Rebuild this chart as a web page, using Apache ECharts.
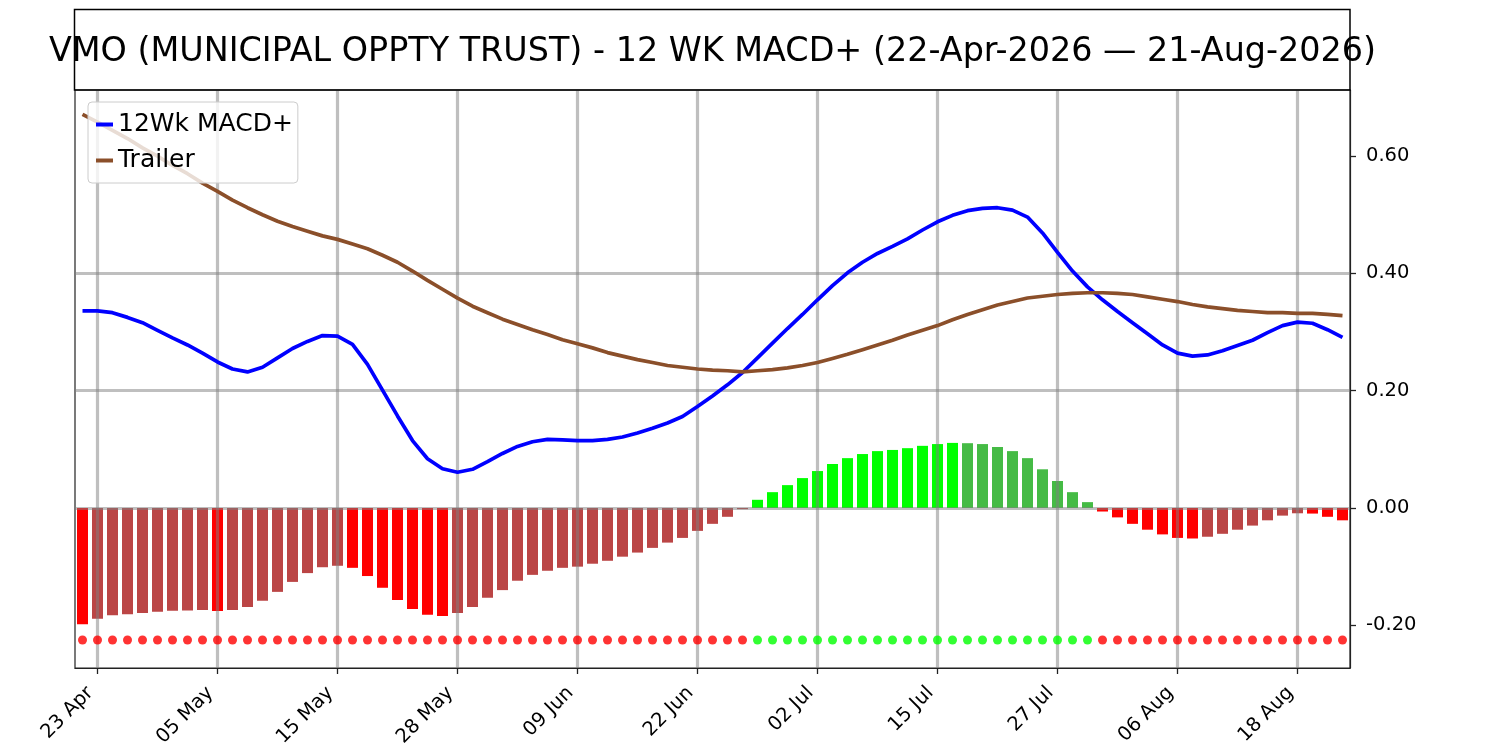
<!DOCTYPE html>
<html><head><meta charset="utf-8">
<script src="https://cdn.jsdelivr.net/npm/echarts@6/dist/echarts.min.js"></script>
<style>html,body{margin:0;padding:0;background:#fff}#c{width:1500px;height:750px}</style>
</head><body><div id="c"></div>
<script>
const titleText = 'VMO (MUNICIPAL OPPTY TRUST) - 12 WK MACD+ (22-Apr-2026 \u2014 21-Aug-2026)';
const dates = ['22 Apr','23 Apr','24 Apr','27 Apr','28 Apr','29 Apr','30 Apr','01 May','04 May','05 May',
 '06 May','07 May','08 May','11 May','12 May','13 May','14 May','15 May','18 May','19 May',
 '20 May','21 May','22 May','26 May','27 May','28 May','29 May','01 Jun','02 Jun','03 Jun',
 '04 Jun','05 Jun','08 Jun','09 Jun','10 Jun','11 Jun','12 Jun','15 Jun','16 Jun','17 Jun',
 '18 Jun','22 Jun','23 Jun','24 Jun','25 Jun','26 Jun','29 Jun','30 Jun','01 Jul','02 Jul',
 '06 Jul','07 Jul','08 Jul','09 Jul','10 Jul','13 Jul','14 Jul','15 Jul','16 Jul','17 Jul',
 '20 Jul','21 Jul','22 Jul','23 Jul','24 Jul','27 Jul','28 Jul','29 Jul','30 Jul','31 Jul',
 '03 Aug','04 Aug','05 Aug','06 Aug','07 Aug','10 Aug','11 Aug','12 Aug','13 Aug','14 Aug',
 '17 Aug','18 Aug','19 Aug','20 Aug','21 Aug'];
const tickLabels = ['23 Apr','05 May','15 May','28 May','09 Jun','22 Jun','02 Jul','15 Jul','27 Jul','06 Aug','18 Aug'];
const macd = [0.336,0.336,0.333,0.325,0.316,0.303,0.290,0.278,0.264,0.249,
 0.237,0.232,0.240,0.256,0.272,0.284,0.294,0.293,0.279,0.245,
 0.201,0.157,0.115,0.084,0.067,0.061,0.066,0.079,0.093,0.105,
 0.113,0.117,0.116,0.115,0.115,0.117,0.121,0.128,0.136,0.145,
 0.156,0.173,0.191,0.210,0.231,0.256,0.281,0.306,0.330,0.355,
 0.379,0.401,0.419,0.434,0.446,0.459,0.474,0.488,0.499,0.507,
 0.511,0.512,0.508,0.496,0.469,0.436,0.404,0.377,0.355,0.335,
 0.316,0.297,0.278,0.264,0.259,0.261,0.268,0.277,0.286,0.299,
 0.311,0.317,0.315,0.304,0.291];
const trailer = [0.671,0.658,0.644,0.630,0.614,0.600,0.584,0.570,0.554,0.540,
 0.525,0.512,0.500,0.489,0.480,0.472,0.464,0.458,0.450,0.442,
 0.431,0.419,0.404,0.388,0.373,0.358,0.344,0.333,0.322,0.313,
 0.304,0.296,0.287,0.280,0.273,0.265,0.259,0.253,0.248,0.243,
 0.240,0.237,0.235,0.234,0.232,0.234,0.236,0.239,0.243,0.248,
 0.255,0.262,0.270,0.278,0.286,0.295,0.303,0.311,0.321,0.330,
 0.338,0.346,0.352,0.358,0.361,0.364,0.366,0.367,0.367,0.366,
 0.364,0.360,0.356,0.352,0.347,0.343,0.340,0.337,0.335,0.333,
 0.333,0.332,0.332,0.330,0.328];
const hist = [-0.198,-0.189,-0.183,-0.181,-0.179,-0.177,-0.175,-0.1748,-0.174,-0.1755,
 -0.174,-0.169,-0.158,-0.143,-0.126,-0.111,-0.101,-0.0985,-0.102,-0.116,
 -0.136,-0.157,-0.172,-0.182,-0.184,-0.179,-0.169,-0.153,-0.140,-0.124,
 -0.114,-0.107,-0.102,-0.100,-0.095,-0.090,-0.083,-0.076,-0.068,-0.059,
 -0.051,-0.039,-0.027,-0.015,-0.002,0.014,0.027,0.039,0.051,0.063,
 0.075,0.085,0.092,0.097,0.099,0.102,0.106,0.109,0.111,0.1105,
 0.109,0.104,0.097,0.085,0.066,0.046,0.027,0.010,-0.006,-0.016,
 -0.027,-0.037,-0.045,-0.051,-0.052,-0.049,-0.044,-0.037,-0.030,-0.021,
 -0.013,-0.009,-0.0095,-0.015,-0.021];
const yTicks = [-0.2, 0, 0.2, 0.4, 0.6];
const yMin = -0.2728, yMax = 0.7127;
const DOT_LEVEL = -0.225;

const C = {
  red: '#ff0000', redMuted: '#bb4545',
  green: '#00ff00', greenMuted: '#45bb45',
  blue: '#0000ff', brown: '#8b4f2a',
  grid: 'rgba(128,128,128,0.5)'
};
const FONT = 'DejaVu Sans';

const barData = hist.map((v, i) => {
  const p = i > 0 ? hist[i - 1] : v;
  let col;
  if (v < 0) col = (i === 0 || v <= p) ? C.red : C.redMuted;
  else col = (i === 0 || v >= p) ? C.green : C.greenMuted;
  return { value: v, itemStyle: { color: col } };
});
const dotData = dates.map((d, i) => ({
  value: DOT_LEVEL,
  itemStyle: { color: macd[i] > trailer[i] ? C.green : C.red }
}));
const showIdx = (i) => tickLabels.indexOf(dates[i]) >= 0;

const chart = echarts.init(document.getElementById('c'), null, { renderer: 'canvas' });
chart.setOption({
  animation: false,
  backgroundColor: '#fff',
  textStyle: { fontFamily: FONT },
  title: {
    text: titleText,
    left: 712.5, top: 52, padding: 0,
    textAlign: 'center', textVerticalAlign: 'middle',
    textStyle: { fontFamily: FONT, fontSize: 33.4, fontWeight: 'normal', color: '#000' },
    z: 10
  },
  graphic: [{
    type: 'rect', z: 5,
    shape: { x: 74.5, y: 9.5, width: 1275.5, height: 80.5 },
    style: { fill: 'none', stroke: '#000', lineWidth: 1.5 }
  }],
  legend: {
    left: 88, top: 102,
    orient: 'vertical',
    padding: [10, 5, 10, 8],
    itemGap: 11,
    itemWidth: 17, itemHeight: 4,
    icon: 'rect',
    backgroundColor: 'rgba(255,255,255,0.8)',
    borderColor: '#cccccc', borderWidth: 1, borderRadius: 4,
    textStyle: { fontFamily: FONT, fontSize: 25, color: '#000' },
    data: ['12Wk MACD+', 'Trailer'],
    z: 20
  },
  grid: {
    left: 75, right: 150, top: 90, bottom: 82,
    show: true, borderColor: '#222', borderWidth: 1.2, backgroundColor: 'transparent'
  },
  xAxis: {
    type: 'category', data: dates, boundaryGap: true, z: 3,
    axisLine: { show: true, onZero: false, lineStyle: { color: '#222', width: 1.2 } },
    axisTick: { show: true, interval: (i) => showIdx(i), alignWithLabel: true, length: 6, lineStyle: { color: '#222', width: 1.3 } },
    axisLabel: {
      interval: (i) => showIdx(i), rotate: 45, margin: 29, verticalAlign: 'bottom',
      fontFamily: FONT, fontSize: 19.5, color: '#000'
    },
    splitLine: { show: true, interval: (i) => showIdx(i), alignWithLabel: true, lineStyle: { color: C.grid, width: 3.2 } }
  },
  yAxis: {
    type: 'value', position: 'right', min: yMin, max: yMax, z: 3,
    axisLine: { show: true, lineStyle: { color: '#222', width: 1.2 } },
    axisTick: { show: true, customValues: yTicks, length: 6, lineStyle: { color: '#222', width: 1.3 } },
    axisLabel: {
      customValues: yTicks, margin: 16, align: 'left',
      formatter: (v) => v.toFixed(2),
      fontFamily: FONT, fontSize: 19.5, color: '#000'
    },
    splitLine: { show: true, showMinLine: false, showMaxLine: false, lineStyle: { color: C.grid, width: 3.2 } }
  },
  series: [
    { name: 'hist', type: 'bar', data: barData, barWidth: 11, z: 2, silent: true },
    { name: '12Wk MACD+', type: 'line', data: macd, showSymbol: false, smooth: false,
      lineStyle: { color: C.blue, width: 3.7 }, itemStyle: { color: C.blue }, z: 6 },
    { name: 'Trailer', type: 'line', data: trailer, showSymbol: false, smooth: false,
      lineStyle: { color: C.brown, width: 3.7 }, itemStyle: { color: C.brown }, z: 6 },
    { name: 'signal', type: 'scatter', data: dotData, symbol: 'circle', symbolSize: 9, z: 7, silent: true }
  ]
});
</script>
</body></html>
